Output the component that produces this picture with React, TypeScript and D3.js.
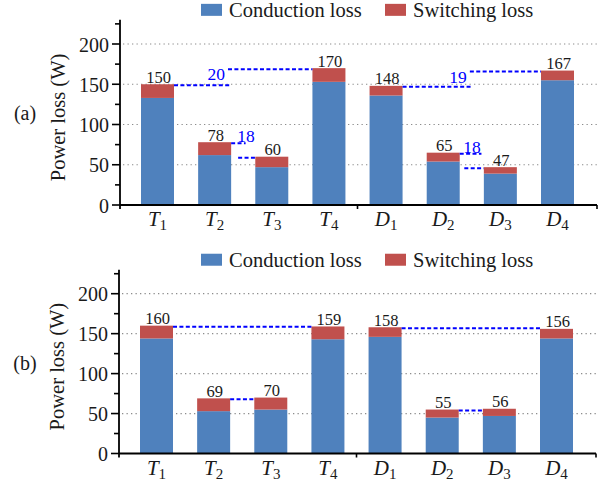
import React from "react";
import * as d3 from "d3";

// Devices on the x axis: letter + subscript index
const categories = ["T1", "T2", "T3", "T4", "D1", "D2", "D3", "D4"];
const catLetter = ["T", "T", "T", "T", "D", "D", "D", "D"];
const catIndex = ["1", "2", "3", "4", "1", "2", "3", "4"];

// (a) loss breakdown, W
const conductionA = [133, 62, 47, 153, 136, 54, 39, 155];
const switchingA = [17, 16, 13, 17, 12, 11, 8, 12];

// (b) loss breakdown, W
const conductionB = [144, 53, 55, 143, 146, 45, 47, 144];
const switchingB = [16, 16, 15, 16, 12, 10, 9, 12];

const seriesNames = ["Conduction loss", "Switching loss"];
const yTicks = [0, 50, 100, 150, 200];
const yMinorTicks = [25, 75, 125, 175, 225];
const yMax = 230;

// Pairs of bars compared with a dashed guide line
const gapPairsA: [number, number][] = [[0, 3], [1, 2], [4, 7], [5, 6]];
const gapPairsB: [number, number][] = [[0, 3], [1, 2], [4, 7], [5, 6]];

// Where the two guide segments meet within each gap (fraction of gap width)
const guideSplitA = [
  { upper: 0.39, lower: 0.41 },
  { upper: 0.6, lower: 0.29 },
  { upper: 0.486, lower: 0.507 },
  { upper: 0.9, lower: 0.19 },
];

const BLUE = "#4F81BD";
const RED = "#C0504D";
const GUIDE = "#0000FF";
const INK = "#1a1a1a";
const FONT = '"Liberation Serif", "DejaVu Serif", "Times New Roman", serif';
const txt = { fontFamily: FONT };

type PanelProps = {
  tag: string;
  conduction: number[];
  switching: number[];
  pairs: [number, number][];
  split?: { upper: number; lower: number }[];
  yRange: [number, number]; // pixel of 0 and of 200
  xLeft: number;
};

function Panel({ tag, conduction, switching, pairs, split, yRange, xLeft }: PanelProps) {
  const totals = conduction.map((c, i) => c + switching[i]);
  const [py0, py200] = yRange;
  const y = d3.scaleLinear().domain([0, 200]).range([py0, py200]);
  const x = d3
    .scaleBand<string>()
    .domain(categories)
    .range([xLeft, xLeft + 475])
    .paddingInner(0.4225)
    .paddingOuter(0.3675);
  const bw = x.bandwidth();
  const axisRight = xLeft + 477;
  const sepX = ((x(categories[3])! + bw / 2) + (x(categories[4])! + bw / 2)) / 2;
  const legendY = y(yMax) - 10;
  const midY = (y(0) + y(yMax)) / 2;

  return (
    <g>
      {/* gridlines */}
      {yTicks.filter((t) => t > 0).map((t) => (
        <line key={"g" + t} x1={xLeft + 3} x2={axisRight} y1={y(t)} y2={y(t)}
          stroke="#8c8c8c" strokeWidth={1.2} strokeDasharray="1.3 3.2" />
      ))}

      {/* stacked bars */}
      {categories.map((c, i) => (
        <g key={c}>
          <rect x={x(c)} width={bw} y={y(conduction[i])} height={y(0) - y(conduction[i])} fill={BLUE} />
          <rect x={x(c)} width={bw} y={y(totals[i])} height={y(conduction[i]) - y(totals[i])} fill={RED} />
          <text x={x(c)! + bw / 2 + 1} y={y(totals[i]) - 1.5} textAnchor="middle"
            fontSize={16.5} fill={INK} style={txt}>{totals[i]}</text>
        </g>
      ))}

      {/* dashed guide lines between compared bars */}
      {pairs.map(([a, b], k) => {
        const xa = x(categories[a])! + bw;
        const xb = x(categories[b])!;
        const ya = y(totals[a]) + 1;
        const yb = y(totals[b]) + 1;
        if (!split) {
          return (
            <line key={"p" + k} x1={xa} x2={xb} y1={ya} y2={ya}
              stroke={GUIDE} strokeWidth={2} strokeDasharray="4 2.4" />
          );
        }
        const gap = xb - xa;
        const s = split[k];
        const diff = Math.abs(totals[b] - totals[a]);
        if (totals[b] > totals[a]) {
          // right bar higher: label sits left of the upper segment
          const lowEnd = xa + gap * s.lower;
          const upStart = xa + gap * s.upper;
          return (
            <g key={"p" + k}>
              <line x1={xa} x2={lowEnd} y1={ya} y2={ya} stroke={GUIDE} strokeWidth={2} strokeDasharray="4 2.4" />
              <line x1={upStart} x2={xb} y1={yb} y2={yb} stroke={GUIDE} strokeWidth={2} strokeDasharray="4 2.4" />
              <text x={upStart - 3} y={yb + 11} textAnchor="end" fontSize={17.5}
                fill={GUIDE} style={txt}>{diff}</text>
            </g>
          );
        }
        // left bar higher: label sits on the upper segment
        const upEnd = xa + gap * s.upper;
        const lowStart = xa + gap * s.lower;
        return (
          <g key={"p" + k}>
            <line x1={xa} x2={upEnd} y1={ya} y2={ya} stroke={GUIDE} strokeWidth={2} strokeDasharray="4 2.4" />
            <line x1={lowStart} x2={xb} y1={yb} y2={yb} stroke={GUIDE} strokeWidth={2} strokeDasharray="4 2.4" />
            <text x={lowStart - 1} y={ya - 1} textAnchor="start" fontSize={17.5}
              fill={GUIDE} style={txt}>{diff}</text>
          </g>
        );
      })}

      {/* y axis */}
      <line x1={xLeft} x2={xLeft} y1={y(yMax)} y2={y(0) + 4} stroke="#000" strokeWidth={1.8} />
      {yTicks.map((t) => (
        <g key={"t" + t}>
          <line x1={xLeft - 8} x2={xLeft} y1={y(t)} y2={y(t)} stroke="#000" strokeWidth={1.6} />
          <text x={xLeft - 11} y={y(t) + 7.5} textAnchor="end" fontSize={20}
            fill={INK} style={txt}>{t}</text>
        </g>
      ))}
      {yMinorTicks.map((t) => (
        <line key={"m" + t} x1={xLeft - 5} x2={xLeft} y1={y(t)} y2={y(t)} stroke="#000" strokeWidth={1.6} />
      ))}

      {/* x axis */}
      <line x1={xLeft} x2={axisRight} y1={y(0)} y2={y(0)} stroke="#000" strokeWidth={1.8} />
      {[sepX, axisRight].map((sx, i) => (
        <line key={"s" + i} x1={sx} x2={sx} y1={y(0)} y2={y(0) + 4} stroke="#000" strokeWidth={1.6} />
      ))}
      {categories.map((c, i) => (
        <text key={"xl" + c} x={x(c)! + bw / 2} y={y(0) + 21} textAnchor="middle"
          fontSize={21} fill={INK} style={txt}>
          <tspan fontStyle="italic">{catLetter[i]}</tspan>
          <tspan fontSize={15} dy={4}>{catIndex[i]}</tspan>
        </text>
      ))}

      {/* axis title and panel tag */}
      <text transform={`translate(${xLeft - 55},${midY + 5}) rotate(-90)`} textAnchor="middle"
        fontSize={20.5} fill={INK} style={txt}>Power loss (W)</text>
      <text x={25} y={midY + 8} textAnchor="middle" fontSize={20} fill={INK} style={txt}>{tag}</text>

      {/* legend */}
      {seriesNames.map((name, i) => {
        const lx = i === 0 ? 201 : 385;
        return (
          <g key={name}>
            <rect x={lx} y={legendY - 6} width={21} height={12} fill={i === 0 ? BLUE : RED} />
            <text x={lx + 28} y={legendY + 7} fontSize={20.5} fill={INK} style={txt}>{name}</text>
          </g>
        );
      })}
    </g>
  );
}

export default function App() {
  return (
    <svg width={602} height={483} viewBox="0 0 602 483"
      style={{ position: "absolute", left: 0, top: 0, background: "#fff" }}>
      <rect width={602} height={483} fill="#fff" />
      <Panel tag="(a)" conduction={conductionA} switching={switchingA} pairs={gapPairsA}
        split={guideSplitA} yRange={[205, 44]} xLeft={120} />
      <Panel tag="(b)" conduction={conductionB} switching={switchingB} pairs={gapPairsB}
        yRange={[453.5, 293.7]} xLeft={119} />
    </svg>
  );
}
